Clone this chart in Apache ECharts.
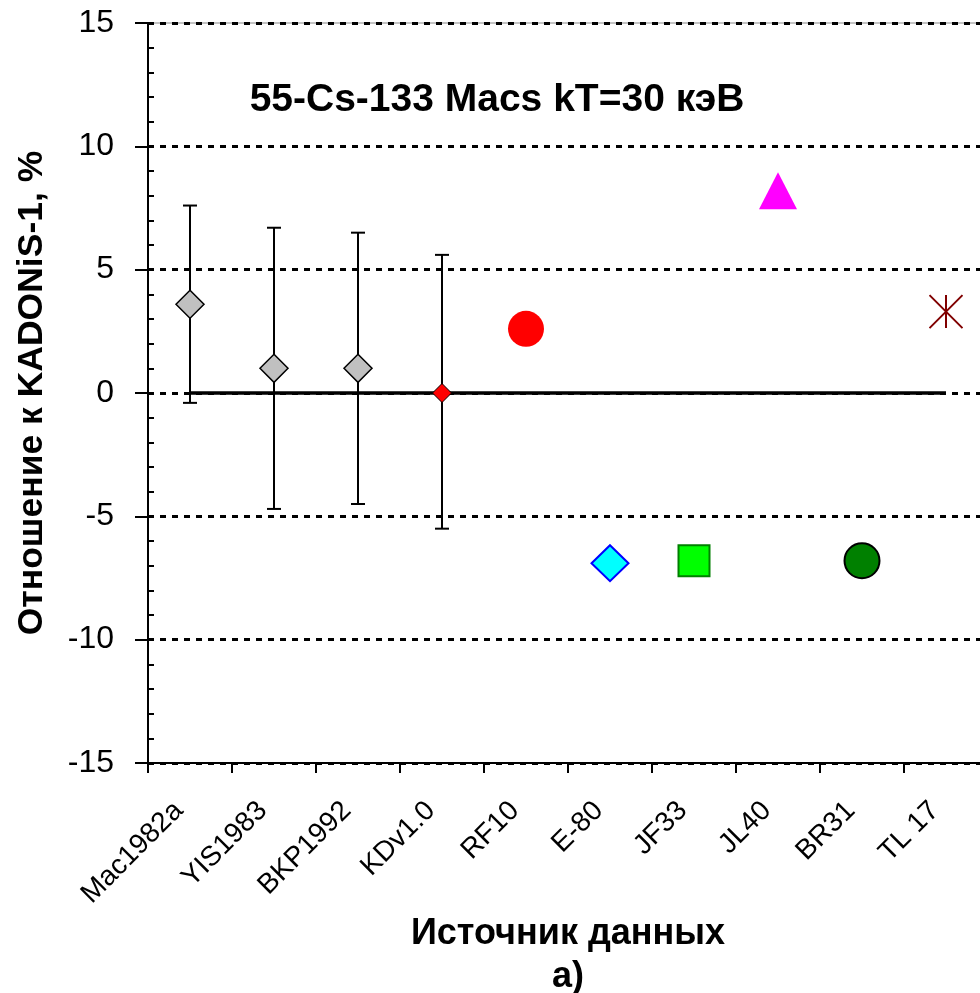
<!DOCTYPE html>
<html>
<head>
<meta charset="utf-8">
<script src="https://cdn.jsdelivr.net/npm/echarts@6/dist/echarts.min.js"></script>
<style>
  html, body { margin: 0; padding: 0; background: #fff; }
  #chart { width: 980px; height: 993px; }
</style>
</head>
<body>
<div id="chart"></div>
<script>
// источники данных
const categories = ["Mac1982a", "YIS1983", "BKP1992", "KDv1.0", "RF10", "E-80", "JF33", "JL40", "BR31", "TL 17"];
// отклонение от KADONiS-1, %
const values = [3.6, 1.0, 1.0, 0, 2.6, -6.9, -6.8, 8.2, -6.8, 3.3];
// погрешности (только первые 4 источника)
const errLow = [-0.4, -4.7, -4.5, -5.5];
const errHigh = [7.6, 6.7, 6.5, 5.6];
const zeroLine = [0, 0, 0, 0, 0, 0, 0, 0, 0, 0];
const yTicks = [-15, -10, -5, 0, 5, 10, 15];

const FONT = "Liberation Sans";
const starPath = "path://M0,0L10,10M10,0L0,10M5,0L5,10";

// маркеры для каждого источника
const markers = [
  { symbol: "diamond", size: 28, color: "#c0c0c0", border: "#000", bw: 1.5 },
  { symbol: "diamond", size: 28, color: "#c0c0c0", border: "#000", bw: 1.5 },
  { symbol: "diamond", size: 28, color: "#c0c0c0", border: "#000", bw: 1.5 },
  { symbol: "diamond", size: 19, color: "#ff0000", border: "#000", bw: 1 },
  { symbol: "circle", size: 36, color: "#ff0000", border: "#ff0000", bw: 0 },
  { symbol: "diamond", size: [37, 36], color: "#00ffff", border: "#0000ff", bw: 2 },
  { symbol: "rect", size: 31, color: "#00ff00", border: "#008000", bw: 2 },
  { symbol: "triangle", size: [38, 37], color: "#ff00ff", border: "#ff00ff", bw: 0 },
  { symbol: "circle", size: 35, color: "#008000", border: "#000", bw: 2 },
  { symbol: starPath, size: 33, color: "rgba(0,0,0,0)", border: "#800000", bw: 2 }
];

const chart = echarts.init(document.getElementById("chart"));

const errData = errLow.map((lo, i) => [i, lo, errHigh[i]]);

const markerSeries = categories.map((c, i) => ({
  type: "scatter",
  name: c,
  z: 5,
  symbol: markers[i].symbol,
  symbolSize: markers[i].size,
  symbolKeepAspect: true,
  itemStyle: {
    color: markers[i].color,
    borderColor: markers[i].border,
    borderWidth: markers[i].bw,
    opacity: 1
  },
  emphasis: { disabled: true },
  data: [[i, values[i]]]
}));

const options = {
  animation: false,
  backgroundColor: "#fff",
  textStyle: { fontFamily: FONT },
  grid: {
    left: 148,
    right: -8,
    top: 23,
    bottom: 230,
    show: true,
    borderColor: "#888",
    borderWidth: 1,
    outerBoundsMode: "none"
  },
  graphic: [
    {
      type: "text",
      x: 497,
      y: 100,
      style: {
        text: "55-Cs-133 Macs kT=30 кэВ",
        font: "bold 39px " + FONT,
        fill: "#000",
        textAlign: "center",
        textVerticalAlign: "middle"
      }
    }
  ],
  xAxis: {
    type: "category",
    data: categories,
    boundaryGap: true,
    axisLine: { onZero: false, lineStyle: { color: "#000", width: 2 } },
    axisTick: { show: true, length: 10, lineStyle: { color: "#000", width: 2 } },
    axisLabel: {
      interval: 0,
      rotate: 45,
      margin: 32,
      padding: [0, 16, 0, 0],
      color: "#000",
      fontSize: 28,
      fontFamily: FONT
    },
    splitLine: { show: false },
    name: "Источник данных\nа)",
    nameLocation: "middle",
    nameGap: 150,
    nameMoveOverlap: false,
    nameTextStyle: {
      color: "#000",
      fontSize: 36,
      fontWeight: "bold",
      fontFamily: FONT,
      lineHeight: 43,
      verticalAlign: "top"
    }
  },
  yAxis: [
    {
      type: "value",
      min: yTicks[0],
      max: yTicks[yTicks.length - 1],
      interval: 5,
      axisLine: { show: true, onZero: false, lineStyle: { color: "#000", width: 2 } },
      axisTick: { show: true, length: 13, lineStyle: { color: "#000", width: 2 } },
      axisLabel: { margin: 34, color: "#000", fontSize: 32, fontFamily: FONT },
      splitLine: {
        show: true,
        lineStyle: { color: "#000", width: 3, type: [6, 6] }
      },
      name: "Отношение к KADONiS-1, %",
      nameLocation: "middle",
      nameGap: 98,
      nameRotate: 90,
      nameTextStyle: { color: "#000", fontSize: 35.5, fontWeight: "bold", fontFamily: FONT }
    },
    {
      // второй осью рисуем малые деления внутрь
      type: "value",
      position: "left",
      offset: 0,
      min: yTicks[0],
      max: yTicks[yTicks.length - 1],
      interval: 5,
      axisLine: { show: false, onZero: false },
      axisTick: { show: false, inside: true },
      minorTick: { show: true, splitNumber: 5, length: 6, lineStyle: { color: "#000", width: 2 } },
      axisLabel: { show: false },
      splitLine: { show: false }
    }
  ],
  series: [
    {
      type: "custom",
      name: "errors",
      z: 3,
      renderItem: function (params, api) {
        const idx = api.value(0);
        const top = api.coord([idx, api.value(2)]);
        const bot = api.coord([idx, api.value(1)]);
        const half = 7;
        const style = { stroke: "#000", lineWidth: 2 };
        return {
          type: "group",
          children: [
            { type: "line", shape: { x1: top[0], y1: top[1], x2: bot[0], y2: bot[1] }, style: style },
            { type: "line", shape: { x1: top[0] - half, y1: top[1], x2: top[0] + half, y2: top[1] }, style: style },
            { type: "line", shape: { x1: bot[0] - half, y1: bot[1], x2: bot[0] + half, y2: bot[1] }, style: style }
          ]
        };
      },
      encode: { x: 0, y: [1, 2] },
      data: errData
    },
    {
      type: "line",
      name: "zero",
      z: 4,
      data: zeroLine,
      symbol: "none",
      lineStyle: { color: "#000", width: 3.5 },
      emphasis: { disabled: true }
    },
    ...markerSeries
  ]
};

chart.setOption(options);
</script>
</body>
</html>
